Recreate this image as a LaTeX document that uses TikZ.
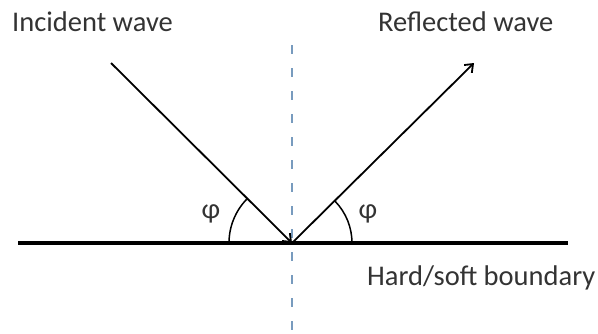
\documentclass[tikz,border=0pt]{standalone}
\usepackage{fontspec}
\setmainfont{Carlito}
\usetikzlibrary{arrows.meta}
\definecolor{cnormal}{RGB}{120,155,190}

\begin{document}
\begin{tikzpicture}[
  x=1pt, y=-1pt,
  font=\fontsize{28.5}{32}\selectfont,
  lab/.style={text=black!80, inner sep=0pt},
  wave/.style={line width=1.8pt},
  ground/.style={line width=3.4pt},
  normal/.style={cnormal, line width=1.2pt, dash pattern=on 9pt off 14pt},
  angarc/.style={line width=1.5pt},
  >={Straight Barb[length=7pt, width=11pt]},
]
\useasboundingbox (0,0) rectangle (598,333);
\coordinate (o) at (292,243);
\coordinate (bl) at (18,243);
\coordinate (br) at (568,243);
\coordinate (nt) at (292,45);
\coordinate (nb) at (292,333);
\coordinate (inc) at (111,63);
\coordinate (refl) at (474,63);
% normal and boundary
\draw[normal] (nt) -- (nb);
\draw[ground] (bl) -- (br);
% waves
\draw[wave, ->] (inc) -- (o);
\draw[wave, ->] (o) -- (refl);
% angles
\draw[angarc] (o) ++(180:63) arc[start angle=180, end angle=224, radius=63];
\draw[angarc] (o) ++(0:60) arc[start angle=0, end angle=-44, radius=60];
\node[lab] (phil) at (211,214) {φ};
\node[lab] (phir) at (368,214) {φ};
% labels
\node[lab, anchor=base west] (inclab) at (12,31) {Incident wave};
\node[lab, anchor=base west] (refllab) at (378,31) {Reflected wave};
\node[lab, anchor=base west] (bndlab) at (367,285) {Hard/soft boundary};
\end{tikzpicture}
\end{document}
